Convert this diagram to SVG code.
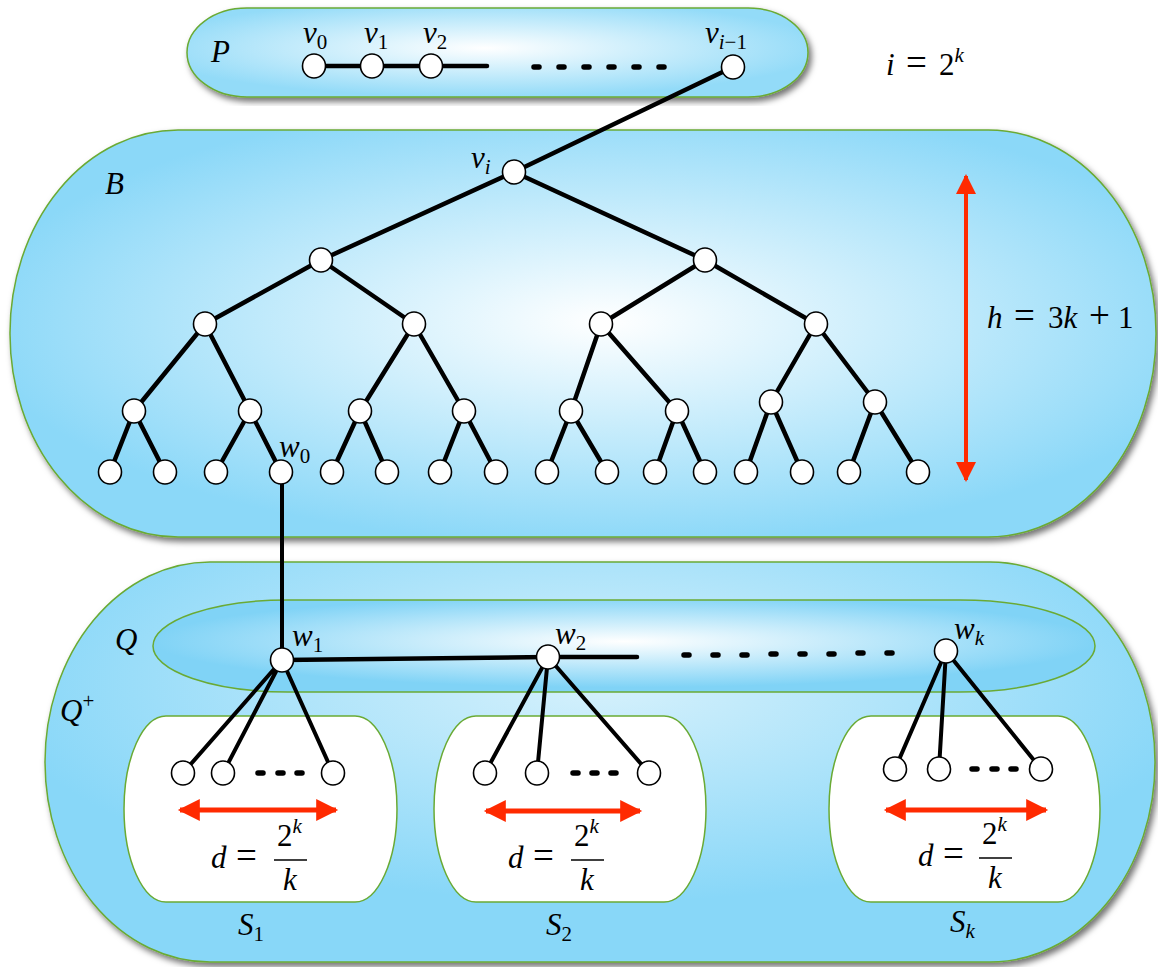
<svg xmlns="http://www.w3.org/2000/svg" width="1158" height="967" viewBox="0 0 1158 967">
<style>
text{font-family:'Liberation Serif','DejaVu Serif',serif;font-size:31px;fill:#000}
.it{font-style:italic}
.sub{font-size:21px}
.eq{font-size:37px}
.nd{fill:#fff;stroke:#000;stroke-width:1.6}
.e{stroke:#000;stroke-width:4.5;stroke-linecap:round;fill:none}
.dot{stroke:#000;stroke-width:5.5;stroke-linecap:round;fill:none}
.red{stroke:#ff2a00;stroke-width:5;fill:none}
.box{stroke:#6aaa34;stroke-width:1.5}
.bar{stroke:#000;stroke-width:1.4}
</style>
<defs>
<filter id="sh" x="-5%" y="-5%" width="112%" height="115%">
<feDropShadow dx="3" dy="4" stdDeviation="3" flood-color="#000" flood-opacity="0.55"/>
</filter>
<radialGradient id="gP" cx="0.48" cy="0.45" r="0.55"><stop offset="0" stop-color="#ffffff"/><stop offset="1" stop-color="#93dbf8"/></radialGradient>
<radialGradient id="gB" cx="0.52" cy="0.47" r="0.55"><stop offset="0" stop-color="#ffffff"/><stop offset="1" stop-color="#8bd8f8"/></radialGradient>
<radialGradient id="gQp" cx="0.5" cy="0.3" r="0.55"><stop offset="0" stop-color="#d6f1fc"/><stop offset="1" stop-color="#88d7f8"/></radialGradient>
<radialGradient id="gQ" cx="0.5" cy="0.45" r="0.5"><stop offset="0" stop-color="#ffffff"/><stop offset="1" stop-color="#80d3f6"/></radialGradient>
<marker id="ar" viewBox="0 0 10 10" refX="9" refY="5" markerWidth="24" markerHeight="22" markerUnits="userSpaceOnUse" orient="auto-start-reverse"><path d="M0,0 L10,5 L0,10 z" fill="#ff2a00"/></marker>
<marker id="arv" viewBox="0 0 10 10" refX="9" refY="5" markerWidth="28" markerHeight="20" markerUnits="userSpaceOnUse" orient="auto-start-reverse"><path d="M0,0 L10,5 L0,10 z" fill="#ff2a00"/></marker>
</defs>

<g id="regionB"><rect class="box" x="10" y="130" width="1146" height="407" rx="168" ry="203" fill="url(#gB)" filter="url(#sh)"/></g>
<g id="regionQplus"><rect class="box" x="45" y="562" width="1110" height="400" rx="165" ry="200" fill="url(#gQp)" filter="url(#sh)"/></g>
<g id="regionQ"><rect class="box" x="153" y="600" width="942" height="92" rx="135" ry="46" fill="url(#gQ)"/></g>
<g id="regionP"><rect class="box" x="187" y="8" width="621" height="89" rx="60" ry="44.5" fill="url(#gP)" filter="url(#sh)"/></g>
<g id="S1box"><rect class="box" x="124" y="716" width="273" height="186" rx="42" ry="93" fill="#fff"/></g>
<g id="S2box"><rect class="box" x="434" y="716" width="272" height="186" rx="42" ry="93" fill="#fff"/></g>
<g id="Skbox"><rect class="box" x="829" y="716" width="271" height="186" rx="42" ry="93" fill="#fff"/></g>

<g id="connectors">
<line class="e" x1="314" y1="66" x2="487" y2="66"/>
<path class="dot" d="M534,67h5M559,67h5M584,67h5M609,67h5M634,67h5M659,67h5"/>
<line class="e" x1="733" y1="67" x2="514" y2="172"/>
<path class="e" d="M514,172L321,260M514,172L705,260M321,260L205,324M321,260L414,324M705,260L601,324M705,260L816,324M205,324L134,411M205,324L250,411M414,324L360,411M414,324L464,411M601,324L571,411M601,324L677,411M816,324L771,402M816,324L875,402M134,411L110,472M134,411L165,472M250,411L216,472M250,411L281,472M360,411L332,472M360,411L387,472M464,411L440,472M464,411L496,472M571,411L547,472M571,411L607,472M677,411L655,472M677,411L705,472M771,402L746,472M771,402L802,472M875,402L849,472M875,402L918,472"/>
<line class="e" x1="282" y1="472" x2="282" y2="660" style="stroke-width:4"/>
<path class="e" d="M282,660L548,657L637,657"/>
<path class="dot" d="M684,655h5M713,655h5M742,655h5M771,654h5M800,654h5M829,654h5M858,653h5M887,653h5"/>
<path class="e" style="stroke-width:4" d="M282,660L183,773M282,660L223,773M282,660L333,773M548,657L485,773M548,657L537,773M548,657L649,773M946,651L895,769M946,651L939,769M946,651L1041,769"/>
<path class="dot" d="M258,773h5M278,773h5M297,773h5M573,773h5M592,773h5M611,773h5M972,769h5M992,769h5M1011,769h5"/>
<line class="red" x1="966" y1="176" x2="966" y2="480" marker-start="url(#arv)" marker-end="url(#arv)" style="stroke-width:4"/>
<line class="red" x1="180" y1="810" x2="336" y2="810" marker-start="url(#ar)" marker-end="url(#ar)"/>
<line class="red" x1="486" y1="811" x2="640" y2="811" marker-start="url(#ar)" marker-end="url(#ar)"/>
<line class="red" x1="886" y1="810" x2="1046" y2="810" marker-start="url(#ar)" marker-end="url(#ar)"/>
</g>

<g id="nodesP">
<ellipse class="nd" cx="314" cy="66" rx="11.5" ry="12"/>
<ellipse class="nd" cx="372" cy="66" rx="11.5" ry="12"/>
<ellipse class="nd" cx="431" cy="66" rx="11.5" ry="12"/>
<ellipse class="nd" cx="733" cy="67" rx="11.5" ry="12"/>
</g>
<g id="nodesB">
<ellipse class="nd" cx="514" cy="172" rx="11.5" ry="12"/>
<ellipse class="nd" cx="321" cy="260" rx="11.5" ry="12"/>
<ellipse class="nd" cx="705" cy="260" rx="11.5" ry="12"/>
<ellipse class="nd" cx="205" cy="324" rx="11.5" ry="12"/>
<ellipse class="nd" cx="414" cy="324" rx="11.5" ry="12"/>
<ellipse class="nd" cx="601" cy="324" rx="11.5" ry="12"/>
<ellipse class="nd" cx="816" cy="324" rx="11.5" ry="12"/>
<ellipse class="nd" cx="134" cy="411" rx="11.5" ry="12"/>
<ellipse class="nd" cx="250" cy="411" rx="11.5" ry="12"/>
<ellipse class="nd" cx="360" cy="411" rx="11.5" ry="12"/>
<ellipse class="nd" cx="464" cy="411" rx="11.5" ry="12"/>
<ellipse class="nd" cx="571" cy="411" rx="11.5" ry="12"/>
<ellipse class="nd" cx="677" cy="411" rx="11.5" ry="12"/>
<ellipse class="nd" cx="771" cy="402" rx="11.5" ry="12"/>
<ellipse class="nd" cx="875" cy="402" rx="11.5" ry="12"/>
<ellipse class="nd" cx="110" cy="472" rx="11.5" ry="12"/>
<ellipse class="nd" cx="165" cy="472" rx="11.5" ry="12"/>
<ellipse class="nd" cx="216" cy="472" rx="11.5" ry="12"/>
<ellipse class="nd" cx="281" cy="472" rx="11.5" ry="12"/>
<ellipse class="nd" cx="332" cy="472" rx="11.5" ry="12"/>
<ellipse class="nd" cx="387" cy="472" rx="11.5" ry="12"/>
<ellipse class="nd" cx="440" cy="472" rx="11.5" ry="12"/>
<ellipse class="nd" cx="496" cy="472" rx="11.5" ry="12"/>
<ellipse class="nd" cx="547" cy="472" rx="11.5" ry="12"/>
<ellipse class="nd" cx="607" cy="472" rx="11.5" ry="12"/>
<ellipse class="nd" cx="655" cy="472" rx="11.5" ry="12"/>
<ellipse class="nd" cx="705" cy="472" rx="11.5" ry="12"/>
<ellipse class="nd" cx="746" cy="472" rx="11.5" ry="12"/>
<ellipse class="nd" cx="802" cy="472" rx="11.5" ry="12"/>
<ellipse class="nd" cx="849" cy="472" rx="11.5" ry="12"/>
<ellipse class="nd" cx="918" cy="472" rx="11.5" ry="12"/>
</g>
<g id="nodesQ">
<ellipse class="nd" cx="282" cy="660" rx="11.5" ry="12"/>
<ellipse class="nd" cx="548" cy="657" rx="11.5" ry="12"/>
<ellipse class="nd" cx="946" cy="651" rx="11.5" ry="12"/>
</g>
<g id="nodesS">
<ellipse class="nd" cx="183" cy="773" rx="11.5" ry="12"/>
<ellipse class="nd" cx="223" cy="773" rx="11.5" ry="12"/>
<ellipse class="nd" cx="333" cy="773" rx="11.5" ry="12"/>
<ellipse class="nd" cx="485" cy="773" rx="11.5" ry="12"/>
<ellipse class="nd" cx="537" cy="773" rx="11.5" ry="12"/>
<ellipse class="nd" cx="649" cy="773" rx="11.5" ry="12"/>
<ellipse class="nd" cx="895" cy="769" rx="11.5" ry="12"/>
<ellipse class="nd" cx="939" cy="769" rx="11.5" ry="12"/>
<ellipse class="nd" cx="1041" cy="769" rx="11.5" ry="12"/>
</g>

<g id="labels">
<text class="it" x="211" y="62">P</text>
<text x="303" y="43"><tspan class="it">v</tspan><tspan class="sub" dy="6">0</tspan></text>
<text x="364" y="43"><tspan class="it">v</tspan><tspan class="sub" dy="6">1</tspan></text>
<text x="423" y="43"><tspan class="it">v</tspan><tspan class="sub" dy="6">2</tspan></text>
<text x="705" y="43"><tspan class="it">v</tspan><tspan class="sub it" dy="6">i</tspan><tspan class="sub">−1</tspan></text>
<text x="886" y="75"><tspan class="it">i</tspan><tspan class="eq" x="906">=</tspan><tspan x="939">2</tspan><tspan class="sub it" dy="-13">k</tspan></text>
<text class="it" x="105" y="194">B</text>
<text x="471" y="168"><tspan class="it">v</tspan><tspan class="sub it" dy="6">i</tspan></text>
<text x="279" y="457"><tspan class="it">w</tspan><tspan class="sub" dy="6">0</tspan></text>
<text x="987" y="328"><tspan class="it">h</tspan><tspan class="eq" x="1014">=</tspan><tspan x="1048">3</tspan><tspan class="it">k</tspan><tspan class="eq" x="1089">+</tspan><tspan x="1118">1</tspan></text>
<text class="it" x="115" y="650">Q</text>
<text x="60" y="721"><tspan class="it">Q</tspan><tspan class="sub" dy="-13">+</tspan></text>
<text x="292" y="646"><tspan class="it">w</tspan><tspan class="sub" dy="6">1</tspan></text>
<text x="555" y="644"><tspan class="it">w</tspan><tspan class="sub" dy="6">2</tspan></text>
<text x="954" y="639"><tspan class="it">w</tspan><tspan class="sub it" dy="6">k</tspan></text>

<text x="211" y="868"><tspan class="it">d</tspan><tspan class="eq" x="236">=</tspan></text>
<text x="277" y="846">2<tspan class="sub it" dy="-13">k</tspan></text>
<line class="bar" x1="274" y1="860" x2="307" y2="860"/>
<text class="it" x="283" y="890">k</text>

<text x="508" y="868"><tspan class="it">d</tspan><tspan class="eq" x="533">=</tspan></text>
<text x="574" y="846">2<tspan class="sub it" dy="-13">k</tspan></text>
<line class="bar" x1="571" y1="860" x2="604" y2="860"/>
<text class="it" x="580" y="890">k</text>

<text x="918" y="866"><tspan class="it">d</tspan><tspan class="eq" x="943">=</tspan></text>
<text x="982" y="844">2<tspan class="sub it" dy="-13">k</tspan></text>
<line class="bar" x1="979" y1="858" x2="1012" y2="858"/>
<text class="it" x="988" y="888">k</text>

<text x="238" y="935"><tspan class="it">S</tspan><tspan class="sub" dy="6">1</tspan></text>
<text x="546" y="935"><tspan class="it">S</tspan><tspan class="sub" dy="6">2</tspan></text>
<text x="950" y="932"><tspan class="it">S</tspan><tspan class="sub it" dy="6">k</tspan></text>
</g>
</svg>
